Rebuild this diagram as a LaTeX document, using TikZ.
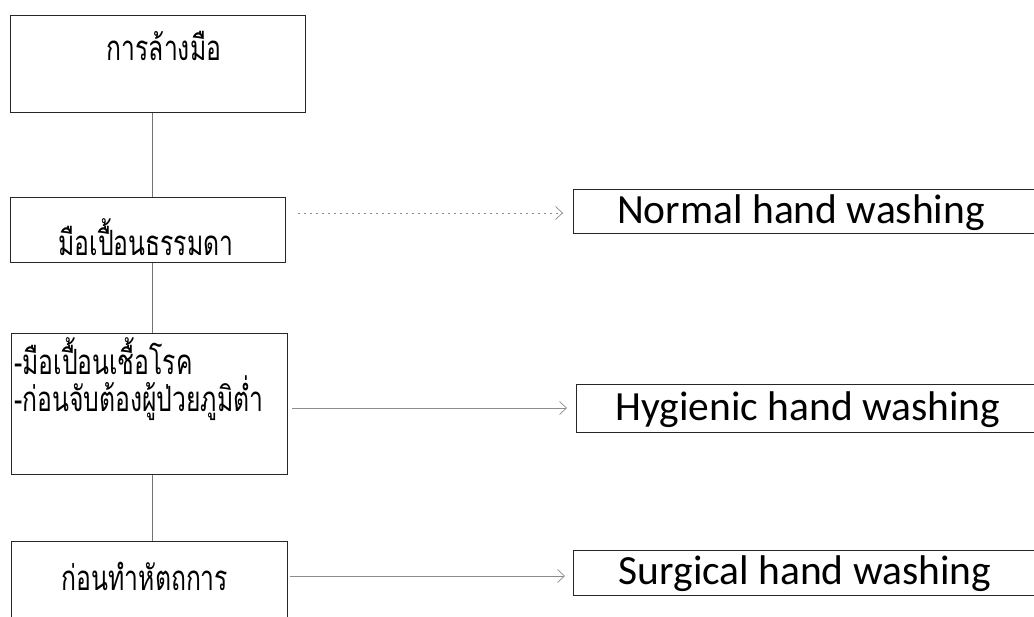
\documentclass[tikz,border=0pt]{standalone}
\usepackage{fontspec}
\usepackage{graphicx}
\newfontfamily\thaifont[Script=Thai]{Loma}
\newfontfamily\engfont{Carlito}
\usetikzlibrary{arrows.meta}
\newcommand{\tall}[1]{\scalebox{1.03}[1.45]{#1}}
\begin{document}
\begin{tikzpicture}[x=1pt,y=-1pt,
  box/.style={draw=black!85,line width=0.9pt,rectangle,inner sep=0pt,anchor=north west},
  thaitext/.style={font=\thaifont\fontsize{24}{28}\selectfont,inner sep=0pt},
  engtext/.style={font=\engfont\fontsize{41.5}{48}\selectfont,inner sep=0pt,anchor=base},
  spine/.style={draw=black!55,line width=0.6pt},
  arr/.style={draw=black!45,line width=0.7pt,-{Straight Barb[length=7pt,width=13pt]}}]
\useasboundingbox[fill=white] (0,0) rectangle (1034,617);
% left boxes
\node[box,minimum width=295pt,minimum height=97pt] (b1) at (10,15) {};
\node[box,minimum width=275pt,minimum height=65pt] (b2) at (10,197) {};
\node[box,minimum width=276pt,minimum height=141pt] (b3) at (11,333) {};
\node[box,minimum width=276pt,minimum height=84pt] (b4) at (11,541) {};
% right boxes
\node[box,minimum width=480pt,minimum height=44pt] (n) at (573,189) {};
\node[box,minimum width=480pt,minimum height=48pt] (h) at (576,384) {};
\node[box,minimum width=480pt,minimum height=45pt] (s) at (573,550) {};
% texts
\node[thaitext] (t1) at (164,46) {\tall{การล้างมือ}};
\node[thaitext] (t2) at (146,237) {\tall{มือเปื้อนธรรมดา}};
\node[thaitext,anchor=west] (t3a) at (14,356) {\tall{-มือเปื้อนเชื้อโรค}};
\node[thaitext,anchor=west] (t3b) at (14,398) {\tall{-ก่อนจับต้องผู้ป่วยภูมิต่ำ}};
\node[thaitext] (t4) at (145,576) {\tall{ก่อนทำหัตถการ}};
\node[engtext] (tn) at (801,224) {Normal hand washing};
\node[engtext] (th) at (808,421) {Hygienic hand washing};
\node[engtext] (ts) at (805,584) {Surgical hand washing};
% spine
\coordinate (sp) at (152,0);
\coordinate (ya) at (0,213);
\coordinate (yb) at (0,408);
\coordinate (yc) at (0,576);
\draw[spine] (b1.south -| sp) -- (b2.north -| sp);
\draw[spine] (b2.south -| sp) -- (b3.north -| sp);
\draw[spine] (b3.south -| sp) -- (b4.north -| sp);
% arrows
\draw[arr,dash pattern=on 2pt off 4pt] ([xshift=12pt]b2.east |- ya) -- ([xshift=-10pt]n.west |- ya);
\draw[arr] ([xshift=4pt]b3.east |- yb) -- ([xshift=-9pt]h.west |- yb);
\draw[arr] ([xshift=2pt]b4.east |- yc) -- ([xshift=-8pt]s.west |- yc);
\end{tikzpicture}
\end{document}
